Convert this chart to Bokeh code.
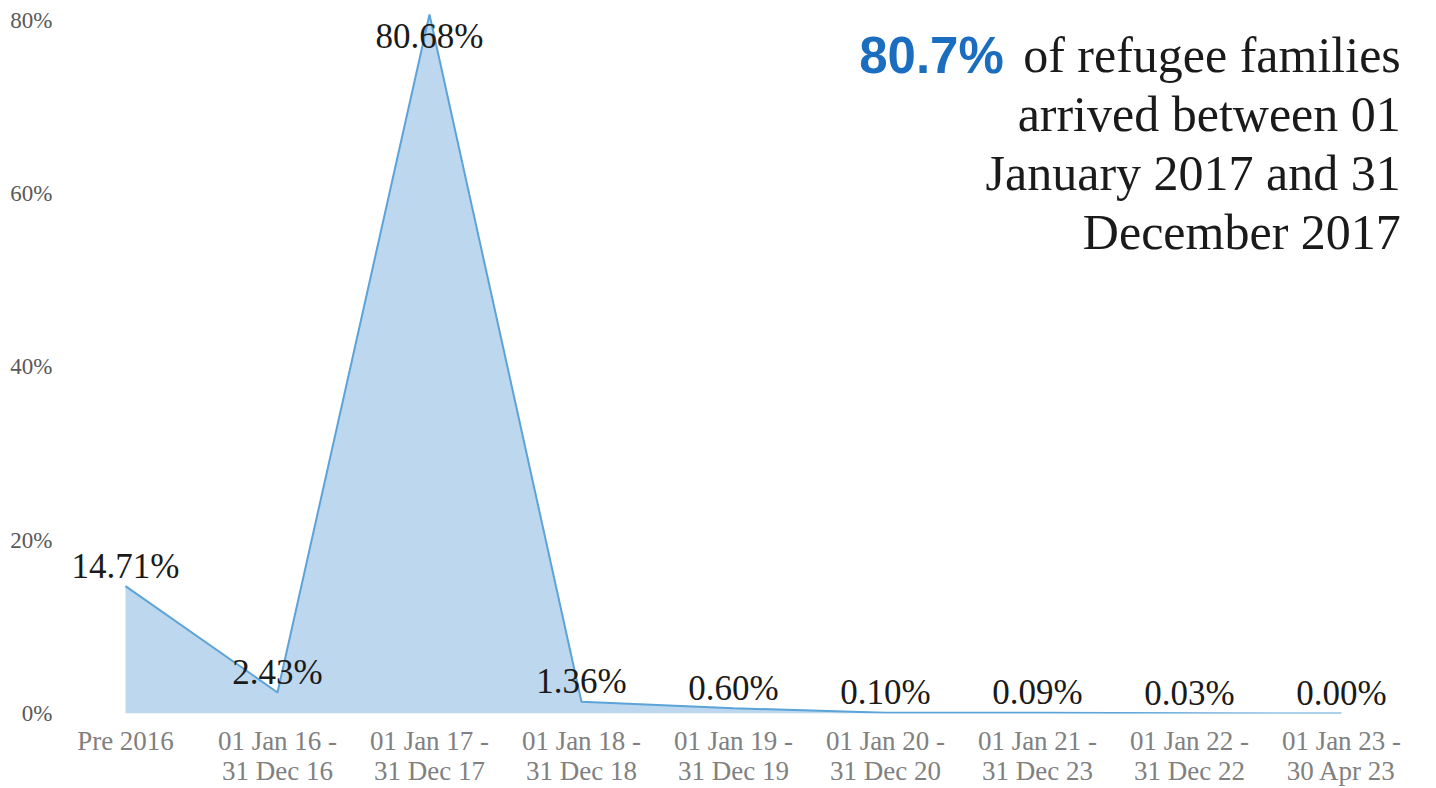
from bokeh.plotting import figure
from bokeh.models import Range1d, FixedTicker, ColumnDataSource
from bokeh.core.properties import value
from bokeh.embed import file_html
from bokeh.resources import INLINE

categories = [
    "Pre 2016",
    "01 Jan 16 -\n31 Dec 16",
    "01 Jan 17 -\n31 Dec 17",
    "01 Jan 18 -\n31 Dec 18",
    "01 Jan 19 -\n31 Dec 19",
    "01 Jan 20 -\n31 Dec 20",
    "01 Jan 21 -\n31 Dec 23",
    "01 Jan 22 -\n31 Dec 22",
    "01 Jan 23 -\n30 Apr 23",
]
shares = [14.71, 2.43, 80.68, 1.36, 0.60, 0.10, 0.09, 0.03, 0.00]
share_labels = ["14.71%", "2.43%", "80.68%", "1.36%", "0.60%", "0.10%", "0.09%", "0.03%", "0.00%"]
y_ticks = [0, 20, 40, 60, 80]
y_tick_labels = ["0%", "20%", "40%", "60%", "80%"]

headline_value = "80.7%"
headline_text = "of refugee families\narrived between 01\nJanuary 2017 and 31\nDecember 2017"

SERIF = "Liberation Serif"
SANS = "Liberation Sans"

xs = list(range(len(categories)))
label_cap = 75.8
src = ColumnDataSource(dict(
    x=xs,
    y=shares,
    ly=[min(v, label_cap) for v in shares],
    t=share_labels,
))

p = figure(width=1420, height=788, output_backend="svg", toolbar_location=None,
           x_range=Range1d(-0.5, len(categories) - 0.5), y_range=Range1d(0, 82.3),
           min_border_top=0, min_border_right=3, min_border_left=49, min_border_bottom=0)
p.outline_line_color = None
p.grid.visible = False
p.background_fill_color = "white"
p.border_fill_color = "white"

p.varea(x="x", y1=0, y2="y", source=src, fill_color="#BDD7EE", fill_alpha=1.0)
p.line(x="x", y="y", source=src, line_color="#5BA3D8", line_width=2)

p.text(x="x", y="ly", text="t", source=src, text_align="center", text_baseline="alphabetic",
       y_offset=-20, text_font=value(SERIF), text_font_size="35px", text_color="#1a1a1a")

# headline annotation
hx = 8.39
hy = 79.2
p.text(x=[hx], y=[hy], text=[headline_text], text_align="right", text_baseline="top",
       text_font=value(SERIF), text_font_size="50px", text_color="#1a1a1a", text_line_height=1.05)
p.text(x=[hx], y=[hy], text=[headline_value], text_align="right", text_baseline="top",
       x_offset=-397, text_font=value(SANS), text_font_style="bold",
       text_font_size="51px", text_color="#1A6DBF")

ya = p.yaxis[0]
ya.ticker = FixedTicker(ticks=y_ticks)
ya.major_label_overrides = {t: l for t, l in zip(y_ticks, y_tick_labels)}
ya.axis_line_color = None
ya.major_tick_line_color = None
ya.minor_tick_line_color = None
ya.major_tick_out = 0
ya.major_tick_in = 0
ya.major_label_standoff = -3
ya.major_label_text_font = SERIF
ya.major_label_text_font_size = "23px"
ya.major_label_text_color = "#595959"

xa = p.xaxis[0]
xa.ticker = FixedTicker(ticks=xs)
xa.major_label_overrides = {i: c for i, c in zip(xs, categories)}
xa.axis_line_color = None
xa.major_tick_line_color = None
xa.minor_tick_line_color = None
xa.major_tick_out = 0
xa.major_tick_in = 0
xa.major_label_standoff = 12
xa.major_label_text_font = SERIF
xa.major_label_text_font_size = "27px"
xa.major_label_text_color = "#808080"
xa.major_label_text_line_height = 1.0

open("out.html", "w").write(file_html(p, INLINE))
